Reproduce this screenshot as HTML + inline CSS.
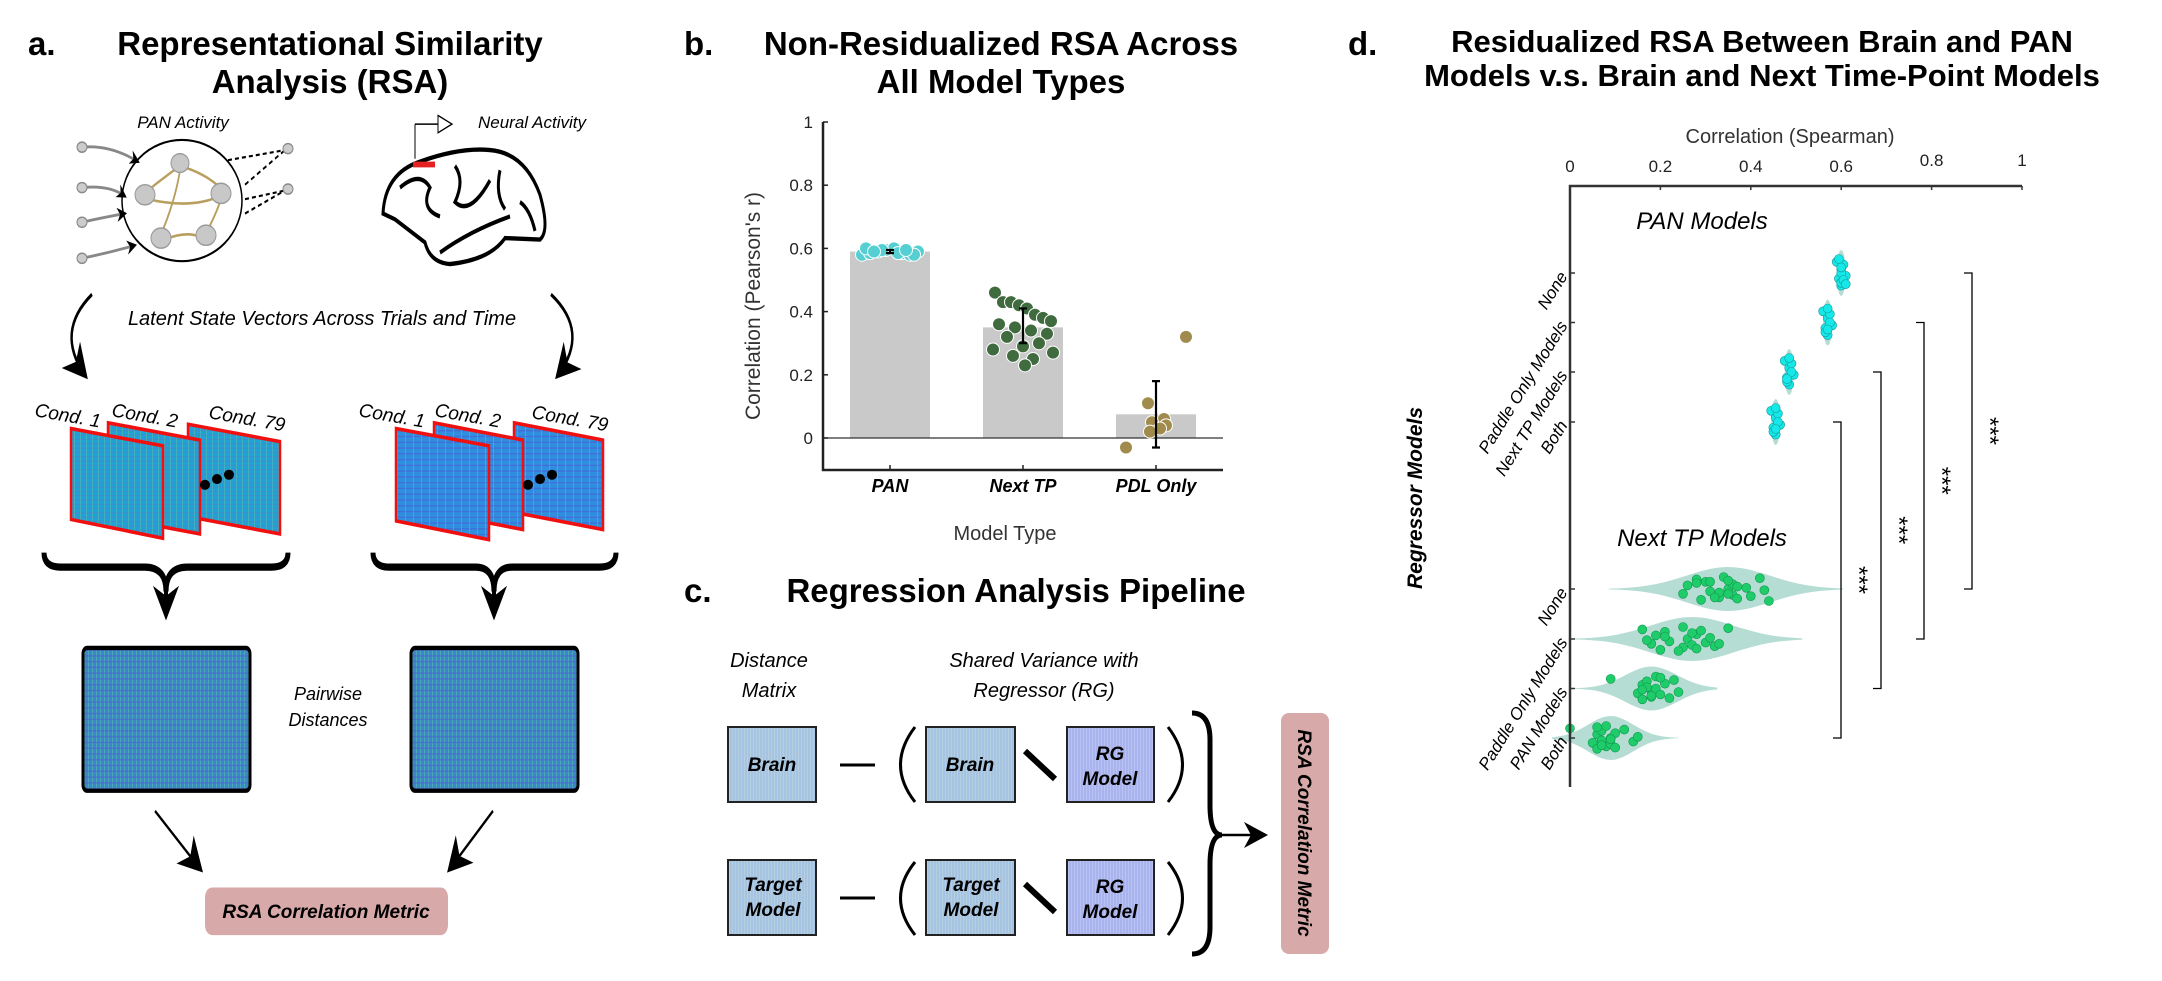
<!DOCTYPE html>
<html><head><meta charset="utf-8"><style>
html,body{margin:0;padding:0;background:#fff;}
svg{display:block;font-family:"Liberation Sans",sans-serif;}
.ttl{font-weight:bold;font-size:33px;fill:#000;text-anchor:middle;}
.ttld{font-weight:bold;font-size:31px;fill:#000;text-anchor:middle;}
.it{font-style:italic;}
</style></head><body>
<svg id="fig" width="2162" height="981" viewBox="0 0 2162 981" xmlns="http://www.w3.org/2000/svg">
<defs>
<pattern id="hmA" width="6" height="3" patternUnits="userSpaceOnUse">
<rect width="6" height="3" fill="#1fa3d6"/><rect y="1" width="6" height="1" fill="#3a8fcf"/><rect x="2" width="1" height="3" fill="#5fbfa8" opacity=".5"/>
</pattern>
<pattern id="hmB" width="8" height="4" patternUnits="userSpaceOnUse">
<rect width="8" height="4" fill="#2f8fde"/><rect y="2" width="8" height="1" fill="#3f6fd8"/><rect x="5" width="1" height="4" fill="#5cc8a0" opacity=".5"/>
</pattern>
<pattern id="hmM" width="4" height="4" patternUnits="userSpaceOnUse">
<rect width="4" height="4" fill="#3f86c8"/><rect width="1" height="4" fill="#4fb8b0" opacity=".7"/><rect y="2" width="4" height="1" fill="#4a60d0" opacity=".6"/>
</pattern>
<pattern id="hmC" width="3" height="3" patternUnits="userSpaceOnUse">
<rect width="3" height="3" fill="#a6c3e2"/><rect width="1" height="3" fill="#b4cfe0"/>
</pattern>
<pattern id="hmD" width="3" height="3" patternUnits="userSpaceOnUse">
<rect width="3" height="3" fill="#a9b4ee"/><rect width="1" height="3" fill="#b9c2f0"/>
</pattern>
<marker id="ah" markerWidth="10" markerHeight="10" refX="8" refY="5" orient="auto" markerUnits="userSpaceOnUse"><path d="M0,0 L10,5 L0,10 L3,5 Z" fill="#000"/></marker>
<marker id="ahBig" markerWidth="26" markerHeight="26" refX="20" refY="13" orient="auto" markerUnits="userSpaceOnUse"><path d="M0,0 L24,13 L0,26 L7,13 Z" fill="#000"/></marker>
</defs>

<!-- ===== Panel a ===== -->
<g>
<text x="28" y="55" font-size="33" font-weight="bold">a.</text>
<text class="ttl" x="330" y="55">Representational Similarity</text>
<text class="ttl" x="330" y="93">Analysis (RSA)</text>
<g transform="scale(1,1.443)">
<g>
<ellipse cx="182" cy="139" rx="60" ry="42" fill="#fff" stroke="#000" stroke-width="1.5"/>
<g stroke="#888" stroke-width="2" fill="none">
<path d="M82,102 Q110,100 138,112" marker-end="url(#ah)"/><path d="M82,130 Q110,128 125,136" marker-end="url(#ah)"/>
<path d="M82,154 Q108,150 125,148" marker-end="url(#ah)"/><path d="M82,179 Q110,175 135,170" marker-end="url(#ah)"/>
</g>
<ellipse cx="82" cy="102" rx="5" ry="3.5" fill="#ccc" stroke="#888"/><ellipse cx="82" cy="130" rx="5" ry="3.5" fill="#ccc" stroke="#888"/>
<ellipse cx="82" cy="154" rx="5" ry="3.5" fill="#ccc" stroke="#888"/><ellipse cx="82" cy="179" rx="5" ry="3.5" fill="#ccc" stroke="#888"/>
<g stroke="#b89f5e" stroke-width="1.8" fill="none">
<path d="M180,115 Q160,125 148,132"/><path d="M180,115 Q205,120 220,130"/><path d="M148,138 Q190,145 220,136"/>
<path d="M160,164 Q175,140 180,118"/><path d="M205,163 Q215,150 220,140"/><path d="M165,166 Q185,160 200,164"/>
</g>
<ellipse cx="180" cy="113" rx="9" ry="6.5" fill="#c8c8c8" stroke="#999"/><ellipse cx="145" cy="135" rx="10" ry="7" fill="#c8c8c8" stroke="#999"/>
<ellipse cx="221" cy="134" rx="10" ry="7" fill="#c8c8c8" stroke="#999"/><ellipse cx="161" cy="165" rx="10" ry="7" fill="#c8c8c8" stroke="#999"/>
<ellipse cx="206" cy="163" rx="10" ry="7" fill="#c8c8c8" stroke="#999"/>
<g stroke="#000" stroke-width="1.5" fill="none" stroke-dasharray="4,3">
<path d="M228,111 L285,104"/><path d="M245,128 L285,104"/><path d="M245,138 L285,132"/><path d="M245,148 L285,132"/>
</g>
<ellipse cx="288" cy="103" rx="5" ry="3.5" fill="#ccc" stroke="#888"/><ellipse cx="288" cy="131" rx="5" ry="3.5" fill="#ccc" stroke="#888"/>
</g>
<g fill="none" stroke="#000" stroke-width="3">
<path d="M383,148 Q385,120 420,112 Q460,102 490,104 Q525,106 540,135 Q550,160 540,166 L505,165 Q490,180 450,183 Q430,182 425,168 Q410,160 395,152 Z"/>
<path d="M400,130 Q420,118 430,130 Q420,145 440,150"/><path d="M455,115 Q465,125 455,140 Q470,150 490,125"/>
<path d="M500,118 Q495,135 505,145"/><path d="M440,175 Q470,160 510,150"/><path d="M520,140 Q530,145 535,160"/>
<path d="M415,86 L415,110" stroke-width="1"/><path d="M415,86 L438,86" stroke-width="1"/>
<path d="M438,80 L452,86 L438,92 Z" stroke-width="1"/>
</g>
<rect x="413" y="112" width="22" height="4" fill="#e52020"/>
<path d="M92,204 Q55,230 85,260" fill="none" stroke="#000" stroke-width="2.5" marker-end="url(#ahBig)"/>
<path d="M551,204 Q590,230 558,260" fill="none" stroke="#000" stroke-width="2.5" marker-end="url(#ahBig)"/>
<g stroke="#f01010" stroke-width="2.5">
<polygon points="188,294 280,306 280,370 188,358" fill="url(#hmA)"/>
<polygon points="108,293 200,305 200,370 108,358" fill="url(#hmA)"/>
<polygon points="71,297 163,309 163,373 71,360" fill="url(#hmA)"/>
</g>
<g fill="#000"><ellipse cx="205" cy="336" rx="5" ry="3.5"/><ellipse cx="217" cy="332" rx="5" ry="3.5"/><ellipse cx="229" cy="329" rx="5" ry="3.5"/></g>
<g stroke="#f01010" stroke-width="2.5">
<polygon points="514,293 603,305 603,367 514,355" fill="url(#hmB)"/>
<polygon points="434,293 523,305 523,367 434,355" fill="url(#hmB)"/>
<polygon points="396,297 489,309 489,374 396,361" fill="url(#hmB)"/>
</g>
<g fill="#000"><ellipse cx="528" cy="336" rx="5" ry="3.5"/><ellipse cx="540" cy="332" rx="5" ry="3.5"/><ellipse cx="552" cy="329" rx="5" ry="3.5"/></g>
<path d="M44,383 Q44,393 60,393 L145,393 Q166,393 166,410 Q166,393 187,393 L272,393 Q288,393 288,383" fill="none" stroke="#000" stroke-width="5"/>
<path d="M166,408 L166,426" stroke="#000" stroke-width="4" marker-end="url(#ahBig)"/>
<path d="M373,383 Q373,393 389,393 L476,393 Q494,393 494,410 Q494,393 512,393 L600,393 Q616,393 616,383" fill="none" stroke="#000" stroke-width="5"/>
<path d="M494,408 L494,426" stroke="#000" stroke-width="4" marker-end="url(#ahBig)"/>
<rect x="83" y="449" width="167" height="99" rx="4" fill="url(#hmM)" stroke="#000" stroke-width="3"/>
<rect x="411" y="449" width="167" height="99" rx="4" fill="url(#hmM)" stroke="#000" stroke-width="3"/>
<path d="M155,562 L200,602" stroke="#000" stroke-width="2" marker-end="url(#ahBig)"/>
<path d="M493,562 L450,602" stroke="#000" stroke-width="2" marker-end="url(#ahBig)"/>
<rect x="205" y="615" width="243" height="33" rx="7" fill="#d8a9a9"/>
</g>
<text x="183" y="128" class="it" font-size="17" text-anchor="middle">PAN Activity</text>
<text x="532" y="128" class="it" font-size="17" text-anchor="middle">Neural Activity</text>
<text x="322" y="325" class="it" font-size="20" text-anchor="middle">Latent State Vectors Across Trials and Time</text>
<g font-size="19" class="it">
<text x="34" y="416" transform="rotate(10 34 416)">Cond. 1</text>
<text x="111" y="416" transform="rotate(10 111 416)">Cond. 2</text>
<text x="208" y="418" transform="rotate(10 208 418)">Cond. 79</text>
<text x="358" y="416" transform="rotate(10 358 416)">Cond. 1</text>
<text x="434" y="416" transform="rotate(10 434 416)">Cond. 2</text>
<text x="531" y="418" transform="rotate(10 531 418)">Cond. 79</text>
</g>
<text x="328" y="700" class="it" font-size="18" text-anchor="middle">Pairwise</text>
<text x="328" y="726" class="it" font-size="18" text-anchor="middle">Distances</text>
<text x="326" y="918" font-size="19" font-weight="bold" class="it" text-anchor="middle">RSA Correlation Metric</text>
</g>

<!-- ===== Panel b ===== -->
<g>
<text x="684" y="55" font-size="33" font-weight="bold">b.</text>
<text class="ttl" x="1001" y="55">Non-Residualized RSA Across</text>
<text class="ttl" x="1001" y="93">All Model Types</text>
<g id="barChart"></g>
</g>

<!-- ===== Panel c ===== -->
<g>
<text x="684" y="602" font-size="33" font-weight="bold">c.</text>
<text class="ttl" x="1016" y="602">Regression Analysis Pipeline</text>
<text x="769" y="667" class="it" font-size="20" text-anchor="middle">Distance</text>
<text x="769" y="697" class="it" font-size="20" text-anchor="middle">Matrix</text>
<text x="1044" y="667" class="it" font-size="20" text-anchor="middle">Shared Variance with</text>
<text x="1044" y="697" class="it" font-size="20" text-anchor="middle">Regressor (RG)</text>
<g>
<rect x="728" y="727" width="88" height="75" fill="url(#hmC)" stroke="#222" stroke-width="2"/>
<rect x="926" y="727" width="89" height="75" fill="url(#hmC)" stroke="#222" stroke-width="2"/>
<rect x="1067" y="727" width="87" height="75" fill="url(#hmD)" stroke="#222" stroke-width="2"/>
<rect x="728" y="860" width="88" height="75" fill="url(#hmC)" stroke="#222" stroke-width="2"/>
<rect x="926" y="860" width="89" height="75" fill="url(#hmC)" stroke="#222" stroke-width="2"/>
<rect x="1067" y="860" width="87" height="75" fill="url(#hmD)" stroke="#222" stroke-width="2"/>
</g>
<g font-weight="bold" class="it" font-size="19" text-anchor="middle">
<text x="772" y="771">Brain</text>
<text x="970" y="771">Brain</text>
<text x="1110" y="760">RG</text><text x="1110" y="785">Model</text>
<text x="773" y="891">Target</text><text x="773" y="916">Model</text>
<text x="971" y="891">Target</text><text x="971" y="916">Model</text>
<text x="1110" y="893">RG</text><text x="1110" y="918">Model</text>
</g>
<g stroke="#000" stroke-width="3" fill="none">
<line x1="840" y1="765" x2="875" y2="765"/><line x1="840" y1="898" x2="875" y2="898"/>
<line x1="1025" y1="751" x2="1055" y2="779" stroke-width="6"/><line x1="1025" y1="884" x2="1055" y2="912" stroke-width="6"/>
<path d="M915,727 Q886,765 915,802"/><path d="M1168,727 Q1197,765 1168,802"/>
<path d="M915,862 Q886,898 915,935"/><path d="M1168,862 Q1197,898 1168,935"/>
</g>
<path d="M1192,713 Q1210,713 1210,740 L1210,805 Q1210,835 1222,835 Q1210,835 1210,865 L1210,927 Q1210,954 1192,954" fill="none" stroke="#000" stroke-width="5"/>
<path d="M1222,835 L1264,835" stroke="#000" stroke-width="2.5" marker-end="url(#ahBig)"/>
<rect x="1281" y="713" width="48" height="241" rx="8" fill="#d8a9a9"/>
<text x="1298" y="833" font-size="19" font-weight="bold" class="it" text-anchor="middle" transform="rotate(90 1298 833)">RSA Correlation Metric</text>
</g>

<!-- ===== Panel d ===== -->
<g>
<text x="1348" y="55" font-size="33" font-weight="bold">d.</text>
<text class="ttld" x="1762" y="52">Residualized RSA Between Brain and PAN</text>
<text class="ttld" x="1762" y="86">Models v.s. Brain and Next Time-Point Models</text>
<g id="violinChart"></g>
</g>
</svg>

<script>
// ---------- Panel b data ----------
const barCategories = ["PAN", "Next TP", "PDL Only"];
const barMeans = [0.59, 0.35, 0.075];
const barErrLow = [0.585, 0.30, -0.03];
const barErrHigh = [0.595, 0.41, 0.18];
const barYTicks = [0, 0.2, 0.4, 0.6, 0.8, 1];
const panPoints = [0.58,0.585,0.59,0.595,0.6,0.585,0.58,0.59,0.6,0.595,0.585,0.58,0.59,0.595];
const nextTpPoints = [0.46,0.43,0.43,0.42,0.41,0.39,0.38,0.37,0.36,0.35,0.34,0.33,0.32,0.30,0.29,0.28,0.27,0.26,0.25,0.23];
const pdlPoints = [0.32,0.11,0.06,0.05,0.04,0.03,0.02,-0.03];

// ---------- Panel d data ----------
const rowLabelsPan = ["None", "Paddle Only Models", "Next TP Models", "Both"];
const rowLabelsNext = ["None", "Paddle Only Models", "PAN Models", "Both"];
const xTicksD = [0, 0.2, 0.4, 0.6, 0.8, 1];
const panViolinMeans = [0.60, 0.57, 0.485, 0.455];
const panViolinMin = [0.59, 0.56, 0.475, 0.445];
const panViolinMax = [0.61, 0.58, 0.495, 0.465];
const nextViolinMeans = [0.35, 0.27, 0.18, 0.09];
const nextViolinMin = [0.16, 0.07, 0.05, 0.0];
const nextViolinMax = [0.53, 0.44, 0.28, 0.20];
const nextPtsNone = [0.28,0.25,0.26,0.29,0.30,0.31,0.33,0.34,0.35,0.36,0.36,0.37,0.35,0.33,0.39,0.40,0.42,0.43,0.44,0.28,0.35,0.37,0.32,0.31];
const nextPtsPaddle = [0.16,0.18,0.19,0.20,0.21,0.22,0.25,0.25,0.26,0.27,0.28,0.28,0.29,0.30,0.31,0.32,0.35,0.17,0.24,0.27,0.33,0.21];
const nextPtsPan = [0.09,0.15,0.16,0.16,0.17,0.18,0.18,0.19,0.19,0.20,0.21,0.22,0.23,0.24,0.17,0.18,0.2,0.16];
const nextPtsBoth = [0.0,0.05,0.06,0.06,0.07,0.07,0.08,0.08,0.09,0.09,0.10,0.10,0.12,0.14,0.15,0.07,0.06,0.09];
const panPtsByRow = [
  [0.59,0.595,0.6,0.6,0.605,0.61,0.6,0.595,0.6,0.605,0.6,0.61],
  [0.56,0.565,0.57,0.57,0.575,0.58,0.565,0.57,0.575,0.57],
  [0.475,0.48,0.485,0.485,0.49,0.495,0.48,0.485,0.49,0.48],
  [0.445,0.45,0.455,0.455,0.46,0.465,0.45,0.455,0.46,0.455]
];
const sigBrackets = [[0,0],[1,1],[2,2],[3,3]];
const sigLabels = ["***","***","***","***"];

const NS = "http://www.w3.org/2000/svg";
function mk(tag, attrs, parent){const e=document.createElementNS(NS,tag);for(const k in attrs)e.setAttribute(k,attrs[k]);parent.appendChild(e);return e;}

// ---------- Bar chart ----------
(function(){
  const g = document.getElementById('barChart');
  const x0=823, x1=1223, yTop=122, yBot=470;
  const y = v => 438 - v*316;
  const xc = i => 890 + i*133;
  const bw = 80;
  barMeans.forEach((m,i)=>{
    const r = mk('rect',{x:xc(i)-bw/2,y:Math.min(y(m),y(0)),width:bw,height:Math.abs(y(0)-y(m)),fill:'#c9c9c9'},g);
    
    
  });
  mk('line',{x1:x0,y1:y(0),x2:x1,y2:y(0),stroke:'#333','stroke-width':1.2},g);
  const sets=[panPoints,nextTpPoints,pdlPoints];
  const cols=['#55cfd1','#3f6b3f','#a08a4c'];
  const offs=[-28,-20,-12,-4,4,12,20,28,-24,-8,8,24,-16,16,0,-30,30,-10,10,2];
  sets.forEach((s,i)=>{
    s.forEach((v,j)=>{
      const ox = i===2 ? [30,-8,8,-4,10,4,-6,-30][j] : offs[j%offs.length];
      const c = mk('circle',{cx:xc(i)+ox,cy:y(v),r:6.5,fill:cols[i],stroke:'#fff','stroke-width':1},g);
      
      
    });
  });
  barMeans.forEach((m,i)=>{
    const e = mk('path',{d:`M${xc(i)-4},${y(barErrHigh[i])}H${xc(i)+4}M${xc(i)},${y(barErrHigh[i])}V${y(barErrLow[i])}M${xc(i)-4},${y(barErrLow[i])}H${xc(i)+4}`,stroke:'#000','stroke-width':2.2,fill:'none'},g);
    
    
  });
  mk('path',{d:`M${x0},${yTop}V${yBot}H${x1}`,stroke:'#222','stroke-width':2.5,fill:'none'},g);
  barYTicks.forEach(t=>{
    mk('line',{x1:x0,y1:y(t),x2:x0+5,y2:y(t),stroke:'#222','stroke-width':1.5},g);
    const tx = mk('text',{x:813,y:y(t)+6,'font-size':17,'text-anchor':'end',fill:'#222'},g);
    tx.textContent = t;
    
    
  });
  barCategories.forEach((c,i)=>{
    mk('line',{x1:xc(i),y1:yBot,x2:xc(i),y2:yBot-5,stroke:'#222','stroke-width':1.5},g);
    const tx = mk('text',{x:xc(i),y:492,'font-size':18,'font-weight':'bold','font-style':'italic','text-anchor':'middle'},g);
    tx.textContent = c;
    
    
  });
  const xt = mk('text',{x:1005,y:540,'font-size':20,'text-anchor':'middle',fill:'#333'},g);
  xt.textContent='Model Type';
  
  
  const yt = mk('text',{x:760,y:306,'font-size':21,'text-anchor':'middle',fill:'#333',transform:'rotate(-90 760 306)'},g);
  yt.textContent="Correlation (Pearson's r)";
  
  
})();

// ---------- Violin chart ----------
(function(){
  const g = document.getElementById('violinChart');
  const x = v => 1570 + v*452;
  const panRows = [273,322.5,372,422];
  const nextRows = [589,639,688.5,738];
  function violin(mean,min,max,cy,h,name){
    const pts=[]; const n=30;
    const lo = min - (max-min)*0.2, hi = max + (max-min)*0.2;
    for(let k=0;k<=n;k++){
      const v = lo + (hi-lo)*k/n;
      const sd = (max-min)/4;
      const w = h*Math.exp(-0.5*Math.pow((v-mean)/sd,2));
      pts.push([x(v),w]);
    }
    let d = 'M'+pts.map(p=>p[0]+','+(cy-p[1])).join(' L');
    d += ' L'+pts.slice().reverse().map(p=>p[0]+','+(cy+p[1])).join(' L')+'Z';
    const p = mk('path',{d:d,fill:'#a8d7cc',opacity:0.85},g);
    
    
  }
  panViolinMeans.forEach((m,i)=>{
    const cy=panRows[i];
    const sd=(panViolinMax[i]-panViolinMin[i]);
    const p = mk('ellipse',{cx:x(m),cy:cy,rx:Math.max(3,sd*452*0.5),ry:23,fill:'#a8d7cc',opacity:0.85},g);
    
    
  });
  nextViolinMeans.forEach((m,i)=>{
    violin(m,nextViolinMin[i],nextViolinMax[i],nextRows[i],22,'violin-next-'+i);
  });
  const jit=[-8,4,-3,9,-6,2,7,-10,0,5,-4,8,-7,3,-1,6,-9,1,10,-5,4,-2,7,-6];
  panPtsByRow.forEach((arr,i)=>{
    arr.forEach((v,j)=>{
      const c=mk('circle',{cx:x(v),cy:panRows[i]+jit[j%jit.length]*1.4,r:4.5,fill:'#14e8e8',stroke:'#1a9a9a','stroke-width':0.6},g);
      
      
    });
  });
  [nextPtsNone,nextPtsPaddle,nextPtsPan,nextPtsBoth].forEach((arr,i)=>{
    arr.forEach((v,j)=>{
      const c=mk('circle',{cx:x(v),cy:nextRows[i]+jit[j%jit.length]*1.2,r:4.5,fill:'#1fcc6a',stroke:'#119950','stroke-width':0.6},g);
      
      
    });
  });
  mk('path',{d:`M${x(0)},787V186H${x(1)}`,stroke:'#333','stroke-width':2.5,fill:'none'},g);
  xTicksD.forEach((t,i)=>{
    mk('line',{x1:x(t),y1:186,x2:x(t),y2:190,stroke:'#333','stroke-width':1.5},g);
    const tx=mk('text',{x:x(t),y:(t>=0.8?166:172),'font-size':17,'text-anchor':'middle',fill:'#222'},g);
    tx.textContent=t;
    
    
  });
  const xt=mk('text',{x:1790,y:143,'font-size':20,'text-anchor':'middle',fill:'#333'},g);
  xt.textContent='Correlation (Spearman)';
  
  
  function rowLabels(labels,rows,group){
    labels.forEach((l,i)=>{
      mk('line',{x1:x(0),y1:rows[i],x2:x(0)+5,y2:rows[i],stroke:'#333','stroke-width':1.5},g);
      const tx=mk('text',{x:1563,y:rows[i]+6,'font-size':17,'font-style':'italic','text-anchor':'end',transform:`rotate(-58 1563 ${rows[i]})`},g);
      tx.textContent=l;
      
      
    });
  }
  rowLabels(rowLabelsPan,panRows,'pan');
  rowLabels(rowLabelsNext,nextRows,'next');
  const g1=mk('text',{x:1702,y:229,'font-size':24,'font-style':'italic','text-anchor':'middle'},g);
  g1.textContent='PAN Models';
  
  
  const g2=mk('text',{x:1702,y:546,'font-size':24,'font-style':'italic','text-anchor':'middle'},g);
  g2.textContent='Next TP Models';
  
  
  const yt=mk('text',{x:1422,y:498,'font-size':21,'font-weight':'bold','font-style':'italic','text-anchor':'middle',transform:'rotate(-90 1422 498)'},g);
  yt.textContent='Regressor Models';
  
  
  const bx=[1972,1924,1881,1841];
  sigBrackets.forEach((b,i)=>{
    const ya=panRows[b[0]], yb=nextRows[b[1]];
    const p=mk('path',{d:`M${bx[i]-8},${ya}H${bx[i]}V${yb}H${bx[i]-8}`,stroke:'#000','stroke-width':1.3,fill:'none'},g);
    
    
    const cy=(ya+yb)/2;
    const t=mk('text',{x:bx[i]+10,y:cy,'font-size':24,'text-anchor':'middle',transform:`rotate(90 ${bx[i]+10} ${cy})`},g);
    t.textContent=sigLabels[i];
    
    
  });
})();
</script>
</body></html>
